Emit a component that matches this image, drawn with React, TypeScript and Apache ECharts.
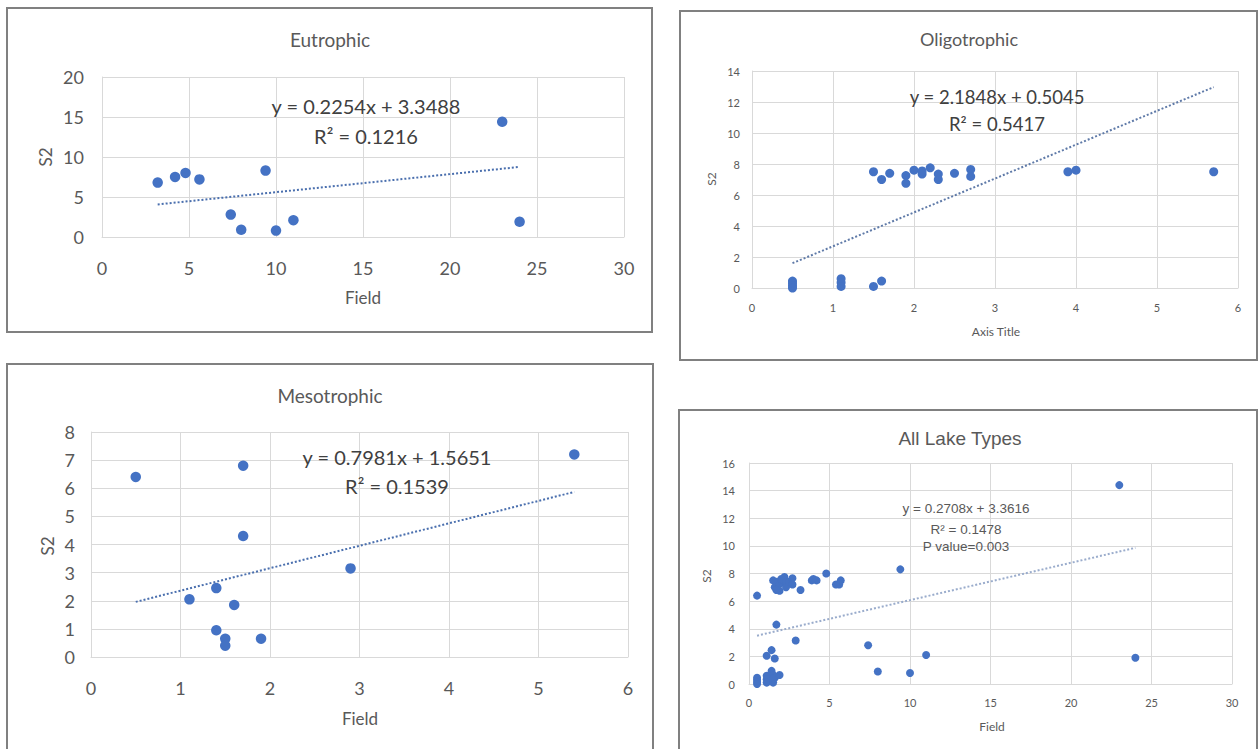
import React, { useEffect, useRef } from "react";
import * as echarts from "echarts";

// ---- Data ----
const eutroX = [3.2, 4.2, 4.8, 5.6, 7.4, 8.0, 9.4, 10.0, 11.0, 23.0, 24.0];
const eutroY = [6.8, 7.5, 8.0, 7.2, 2.8, 0.9, 8.3, 0.8, 2.1, 14.4, 1.9];

const oligoX = [0.5, 0.5, 0.5, 0.5, 1.1, 1.1, 1.1, 1.5, 1.6, 1.5, 1.6, 1.7, 1.9, 1.9, 2.0, 2.1, 2.1, 2.2, 2.3, 2.3, 2.5, 2.7, 2.7, 3.9, 4.0, 5.7];
const oligoY = [0.45, 0.3, 0.15, 0.0, 0.6, 0.35, 0.1, 0.1, 0.45, 7.5, 7.0, 7.4, 7.25, 6.75, 7.6, 7.35, 7.55, 7.75, 7.35, 7.0, 7.4, 7.65, 7.2, 7.5, 7.6, 7.5];

const mesoX = [0.5, 1.7, 1.7, 2.9, 5.4, 1.4, 1.1, 1.6, 1.4, 1.5, 1.5, 1.9];
const mesoY = [6.4, 6.8, 4.3, 3.15, 7.2, 2.45, 2.05, 1.85, 0.95, 0.65, 0.4, 0.65];

// trend line endpoints (from the displayed regression equations)
const eutroTrend = [[3.2, 4.07], [24, 8.76]];
const oligoTrend = [[0.5, 1.6], [5.7, 12.96]];
const mesoTrend = [[0.5, 1.96], [5.4, 5.87]];
const allTrend = [[0.5, 3.5], [24, 9.86]];

const titles = ["Eutrophic", "Oligotrophic", "Mesotrophic", "All Lake Types"];
const eutroEq = ["y = 0.2254x + 3.3488", "R² = 0.1216"];
const oligoEq = ["y = 2.1848x + 0.5045", "R² = 0.5417"];
const mesoEq = ["y = 0.7981x + 1.5651", "R² = 0.1539"];
const allEq = ["y = 0.2708x + 3.3616", "R² = 0.1478", "P value=0.003"];

const pts = (xs: number[], ys: number[]) => xs.map((x, i) => [x, ys[i]]);

const BLUE = "#4472C4";
const GRID = "#d9d9d9";
const TXT = "#595959";
const CAL = "Lato, 'Open Sans', sans-serif";
const ARIAL = "'Liberation Sans', Arial, sans-serif";

export default function App() {
  const ref = useRef<HTMLDivElement>(null);
  useEffect(() => {
    if (!ref.current) return;
    const chart = echarts.init(ref.current, undefined, { renderer: "svg" });

    const mkAxis = (gi: number, max: number, interval: number, fs: number, margin: number, ff: string) => ({
      type: "value", gridIndex: gi, min: 0, max, interval,
      axisLine: { show: true, lineStyle: { color: GRID, width: 1 } },
      axisTick: { show: false },
      axisLabel: { color: TXT, fontSize: fs, fontFamily: ff, margin },
      splitLine: { show: true, lineStyle: { color: GRID, width: 1 } },
    });

    const allX = [...eutroX, ...oligoX, ...mesoX];
    const allY = [...eutroY, ...oligoY, ...mesoY];

    const scatter = (i: number, data: number[][], size: number) => ({
      type: "scatter", xAxisIndex: i, yAxisIndex: i, data, symbolSize: size,
      itemStyle: { color: BLUE, opacity: 1 }, z: 3,
    });
    const trend = (i: number, data: number[][], color: string) => ({
      type: "line", xAxisIndex: i, yAxisIndex: i, data, symbol: "none",
      lineStyle: { color, width: 2, type: [2, 2] }, z: 2,
    });

    const box = (x: number, y: number, w: number, h: number) => ({
      type: "rect", shape: { x, y, width: w, height: h },
      style: { fill: "none", stroke: "#808080", lineWidth: 2 }, z: -1, silent: true,
    });
    const txt = (x: number, y: number, text: string, fs: number, ff: string, color = TXT, rot = 0) => ({
      type: "text", x, y, rotation: rot,
      style: { text, fontSize: fs, fontFamily: ff, fill: color, align: "center", verticalAlign: "middle" },
      z: 10, silent: true,
    });

    chart.setOption({
      animation: false,
      backgroundColor: "#ffffff",
      grid: [
        { left: 102, top: 77, width: 522, height: 160 },
        { left: 752, top: 71, width: 486, height: 217 },
        { left: 91, top: 432, width: 537, height: 225 },
        { left: 749, top: 463, width: 483, height: 221 },
      ],
      xAxis: [
        mkAxis(0, 30, 5, 18, 22, CAL),
        mkAxis(1, 6, 1, 11, 14, CAL),
        mkAxis(2, 6, 1, 18, 22, CAL),
        mkAxis(3, 30, 5, 11, 13, CAL),
      ],
      yAxis: [
        mkAxis(0, 20, 5, 18, 18, CAL),
        mkAxis(1, 14, 2, 11, 12, CAL),
        mkAxis(2, 8, 1, 18, 16, CAL),
        mkAxis(3, 16, 2, 11, 14, CAL),
      ],
      series: [
        scatter(0, pts(eutroX, eutroY), 10.5),
        trend(0, eutroTrend, "#4a6fae"),
        scatter(1, pts(oligoX, oligoY), 9),
        trend(1, oligoTrend, "#5f7aa8"),
        scatter(2, pts(mesoX, mesoY), 10.5),
        trend(2, mesoTrend, "#4a6fae"),
        scatter(3, pts(allX, allY), 8),
        trend(3, allTrend, "#9aaccc"),
      ],
      graphic: [
        box(7, 8, 645, 324),
        box(680, 11, 577, 349),
        box(7, 364, 646, 400),
        box(679, 410, 578, 360),
        txt(330, 39, titles[0], 19, CAL),
        txt(969, 39, titles[1], 18, CAL),
        txt(330, 395, titles[2], 19, CAL),
        txt(960, 438, titles[3], 19, ARIAL),
        txt(363, 297, "Field", 17, CAL),
        txt(996, 331, "Axis Title", 12, CAL),
        txt(360, 718, "Field", 17, CAL),
        txt(992, 726, "Field", 12, CAL),
        txt(45, 157, "S2", 17, CAL, TXT, Math.PI / 2),
        txt(711, 179, "S2", 12, CAL, TXT, Math.PI / 2),
        txt(47, 546, "S2", 17, CAL, TXT, Math.PI / 2),
        txt(706, 576, "S2", 12, CAL, TXT, Math.PI / 2),
        txt(366, 106, eutroEq[0], 20, CAL, "#404040"),
        txt(366, 136, eutroEq[1], 20, CAL, "#404040"),
        txt(997, 97, oligoEq[0], 18.5, CAL, "#404040"),
        txt(997, 124, oligoEq[1], 18.5, CAL, "#404040"),
        txt(397, 457, mesoEq[0], 20, CAL, "#404040"),
        txt(397, 486, mesoEq[1], 20, CAL, "#404040"),
        txt(966, 508, allEq[0], 13.5, ARIAL, "#595959"),
        txt(966, 529, allEq[1], 13.5, ARIAL, "#595959"),
        txt(966, 546, allEq[2], 13.5, ARIAL, "#595959"),
      ],
    });
    return () => chart.dispose();
  }, []);
  return <div ref={ref} style={{ position: "absolute", left: 0, top: 0, width: 1258, height: 749 }} />;
}
